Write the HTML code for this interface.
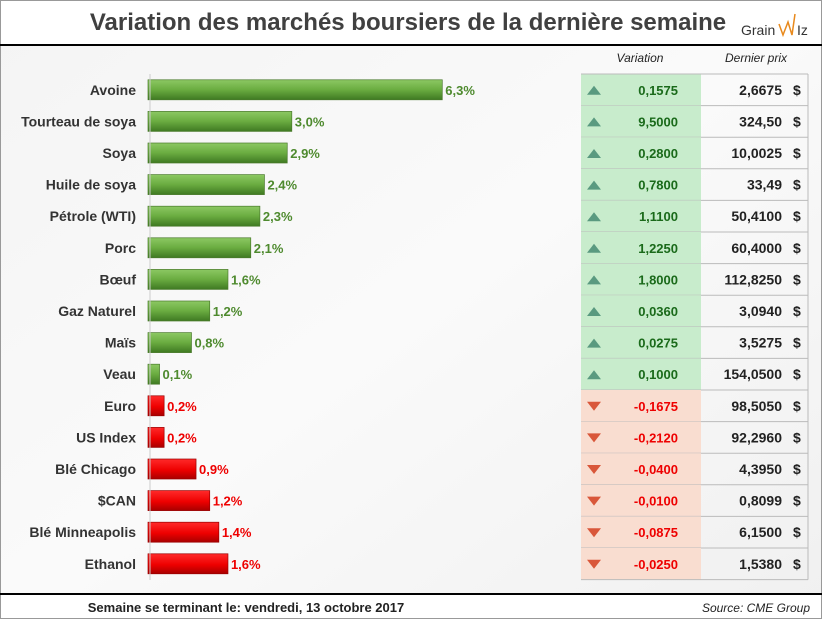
<!DOCTYPE html>
<html><head><meta charset="utf-8">
<style>
body{margin:0;width:822px;height:619px;overflow:hidden;background:#fff;font-family:"Liberation Sans",sans-serif}
svg{display:block}
</style></head><body>
<svg id="c" width="822" height="619" xmlns="http://www.w3.org/2000/svg">
<defs>
<linearGradient id="bg" x1="0" y1="0" x2="1" y2="1"><stop offset="0" stop-color="#f4f4f4"/><stop offset="0.5" stop-color="#fafafa"/><stop offset="1" stop-color="#f0f0f0"/></linearGradient>
<linearGradient id="gg" x1="0" y1="0" x2="0" y2="1"><stop offset="0" stop-color="#8cc863"/><stop offset="0.5" stop-color="#6aac40"/><stop offset="1" stop-color="#3f7a22"/></linearGradient>
<linearGradient id="rg" x1="0" y1="0" x2="0" y2="1"><stop offset="0" stop-color="#ff2a2a"/><stop offset="0.55" stop-color="#ee0000"/><stop offset="1" stop-color="#a80000"/></linearGradient>
</defs>
<rect x="0.5" y="0.5" width="821" height="618" fill="url(#bg)" stroke="#999"/>
<rect x="1" y="1" width="820" height="44" fill="#fff"/>
<text x="408" y="30" text-anchor="middle" font-size="24" font-weight="bold" fill="#404040">Variation des marchés boursiers de la dernière semaine</text>
<g><text x="741" y="35" font-size="14" fill="#333">Grain</text><polyline points="779,24 783,35 788,22 792,35 795,14" fill="none" stroke="#e8891c" stroke-width="1.5"/><text x="797" y="35" font-size="14" fill="#333">Iz</text></g>
<line x1="0" y1="45" x2="822" y2="45" stroke="#000" stroke-width="2"/>
<text x="640" y="62" text-anchor="middle" font-size="12" font-style="italic" fill="#222">Variation</text>
<text x="756" y="62" text-anchor="middle" font-size="12" font-style="italic" fill="#222">Dernier prix</text>
<g id="rows"></g>
<line x1="150" y1="74" x2="150" y2="580" stroke="#ccc"/>
<line x1="0" y1="594" x2="822" y2="594" stroke="#000" stroke-width="2"/>
<rect x="1" y="595" width="820" height="23" fill="#fff"/>
<text x="246" y="612" text-anchor="middle" font-size="13" font-weight="bold" fill="#222">Semaine se terminant le:  vendredi, 13 octobre 2017</text>
<text x="810" y="612" text-anchor="end" font-size="12" font-style="italic" fill="#222">Source: CME Group</text>
</svg>
<script>
const categories=["Avoine","Tourteau de soya","Soya","Huile de soya","Pétrole (WTI)","Porc","Bœuf","Gaz Naturel","Maïs","Veau","Euro","US Index","Blé Chicago","$CAN","Blé Minneapolis","Ethanol"];
const pctValues=[6.3,3.0,2.9,2.4,2.3,2.1,1.6,1.2,0.8,0.1,-0.2,-0.2,-0.9,-1.2,-1.4,-1.6];
const variations=["0,1575","9,5000","0,2800","0,7800","1,1100","1,2250","1,8000","0,0360","0,0275","0,1000","-0,1675","-0,2120","-0,0400","-0,0100","-0,0875","-0,0250"];
const prices=["2,6675","324,50","10,0025","33,49","50,4100","60,4000","112,8250","3,0940","3,5275","154,0500","98,5050","92,2960","4,3950","0,8099","6,1500","1,5380"];
const NS="http://www.w3.org/2000/svg";
const g=document.getElementById('rows');
const x0=148, scale=45.6, top0=74, rowH=31.6;
const xw=v=>7+Math.abs(v)*scale;
const yc=i=>top0+rowH*i+rowH/2;
function mk(t,a){const e=document.createElementNS(NS,t);for(const k in a)e.setAttribute(k,a[k]);g.appendChild(e);return e;}
categories.forEach((c,i)=>{
 const v=pctValues[i], pos=v>=0, y=yc(i), col=pos?'#4e8a2e':'#ee0000';
 const ry=top0+rowH*i;
 const cell=mk('rect',{x:581,y:ry,width:120,height:rowH,fill:pos?'#c8eccc':'#f9ddd0'});
 
 
 mk('line',{x1:581,y1:ry+rowH,x2:808,y2:ry+rowH,stroke:'#bbb'});
 const lb=mk('text',{x:136,y:y+5,'text-anchor':'end','font-size':14,'font-weight':'bold',fill:'#333'});lb.textContent=c;
 
 
 const w=xw(v);
 const b=mk('rect',{x:x0,y:y-10,width:w,height:20,fill:pos?'url(#gg)':'url(#rg)',stroke:pos?'#4a7a2c':'#900',"stroke-width":0.7});
 
 
 const vl=mk('text',{x:x0+w+3,y:y+5,'font-size':13,'font-weight':'bold',fill:col});vl.textContent=Math.abs(v).toFixed(1).replace('.',',')+'%';
 
 
 const ar=mk('polygon',{points:pos?`${587},${y+5} ${601},${y+5} ${594},${y-4}`:`${587},${y-4} ${601},${y-4} ${594},${y+5}`,fill:pos?'#5a9a80':'#d9573a'});
 
 
 const vt=mk('text',{x:678,y:y+5,'text-anchor':'end','font-size':13,'font-weight':'bold',fill:pos?'#1a6a1a':'#ee0000'});vt.textContent=variations[i];
 
 
 const pt=mk('text',{x:782,y:y+5,'text-anchor':'end','font-size':14,'font-weight':'bold',fill:'#222'});pt.textContent=prices[i];
 
 
 const d=mk('text',{x:793,y:y+5,'font-size':14,'font-weight':'bold',fill:'#222'});d.textContent='$';
});
mk('line',{x1:581,y1:top0,x2:808,y2:top0,stroke:'#bbb'});
mk('line',{x1:808,y1:top0,x2:808,y2:top0+rowH*16,stroke:'#bbb'});
</script>
</body></html>
